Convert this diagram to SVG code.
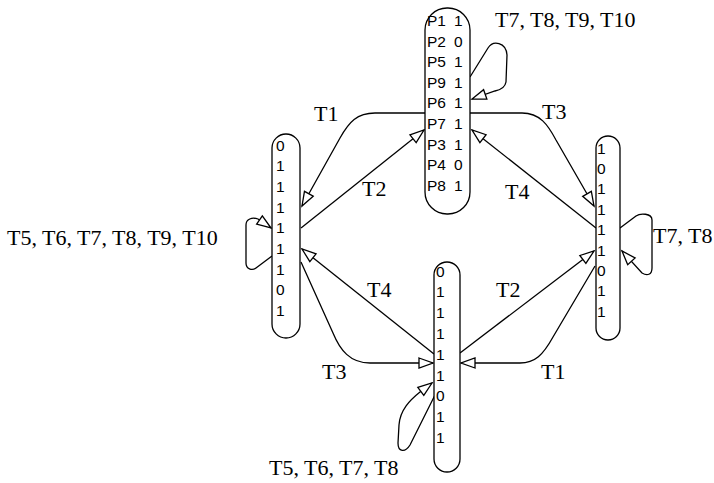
<svg xmlns="http://www.w3.org/2000/svg" width="714" height="483" viewBox="0 0 714 483">
<style>
.node{fill:#fff;stroke:#000;stroke-width:1.3}
.nt{font-family:"Liberation Sans",Arial,sans-serif;font-size:15.5px;fill:#000;dominant-baseline:central}
.lbl{font-family:"Liberation Serif","Times New Roman",serif;font-size:22px;fill:#000}
.edge{fill:none;stroke:#000;stroke-width:1.3;marker-end:url(#ah)}
</style>
<defs>
<marker id="ah" markerUnits="userSpaceOnUse" markerWidth="16" markerHeight="12" refX="14" refY="5" orient="auto" overflow="visible">
<path d="M0,0 L14,5 L0,10 z" fill="#fff" stroke="#000" stroke-width="1.3"/>
</marker>
</defs>
<g id="connectors">
<path class="edge" d="M425,113 H375 C357,113 349,122 340,138 L302,206"/>
<path class="edge" d="M301,228 L424,130"/>
<path class="edge" d="M470,113 H522 C540,113 548,125 556,140 L594,206"/>
<path class="edge" d="M596,228 L472,130"/>
<path class="edge" d="M434,354 L302,249"/>
<path class="edge" d="M301,262 L333,333 C340,350 350,363 370,363 L433,363"/>
<path class="edge" d="M460,353 L594,251"/>
<path class="edge" d="M595,266 L553,337 C543,355 535,363 520,363 L461,363"/>
<path class="edge" d="M470,77 L488,48 C493,40 506,42 507,55 L506,82 C505,88 500,90 495,91 L472,99"/>
<path class="edge" d="M272,256 L256,268 C252,271 246,269 246,263 L246,225 C246,219 252,217 258,219 L271,228"/>
<path class="edge" d="M620,228 L636,216 C640,213 652,213 652,220 L652,268 C652,275 647,276 642,273 L622,251"/>
<path class="edge" d="M435,395 L410,445 C405,453 398,452 398,443 L399,425 C400,410 410,400 420,392 L432,383"/>
</g>
<g id="labels">
<text class="lbl" x="314" y="121">T1</text>
<text class="lbl" x="362" y="196">T2</text>
<text class="lbl" x="542" y="119">T3</text>
<text class="lbl" x="505" y="199">T4</text>
<text class="lbl" x="367" y="297">T4</text>
<text class="lbl" x="322" y="379">T3</text>
<text class="lbl" x="496" y="297">T2</text>
<text class="lbl" x="541" y="379">T1</text>
<text class="lbl" x="495" y="27">T7, T8, T9, T10</text>
<text class="lbl" x="7" y="245">T5, T6, T7, T8, T9, T10</text>
<text class="lbl" x="653" y="243">T7, T8</text>
<text class="lbl" x="269" y="475">T5, T6, T7, T8</text>
</g>
<g id="node-top">
<rect class="node" x="425" y="8" width="45" height="206" rx="22"/>
<text class="nt" x="427" y="20.5">P1</text><text class="nt" x="454" y="20.5">1</text>
<text class="nt" x="427" y="41.1">P2</text><text class="nt" x="454" y="41.1">0</text>
<text class="nt" x="427" y="61.7">P5</text><text class="nt" x="454" y="61.7">1</text>
<text class="nt" x="427" y="82.3">P9</text><text class="nt" x="454" y="82.3">1</text>
<text class="nt" x="427" y="102.9">P6</text><text class="nt" x="454" y="102.9">1</text>
<text class="nt" x="427" y="123.5">P7</text><text class="nt" x="454" y="123.5">1</text>
<text class="nt" x="427" y="144.1">P3</text><text class="nt" x="454" y="144.1">1</text>
<text class="nt" x="427" y="164.7">P4</text><text class="nt" x="454" y="164.7">0</text>
<text class="nt" x="427" y="185.3">P8</text><text class="nt" x="454" y="185.3">1</text>
</g>
<g id="node-left">
<rect class="node" x="272" y="134" width="28" height="204" rx="14"/>
<text class="nt" x="276" y="145">0</text>
<text class="nt" x="276" y="165.7">1</text>
<text class="nt" x="276" y="186.4">1</text>
<text class="nt" x="276" y="207.1">1</text>
<text class="nt" x="276" y="227.8">1</text>
<text class="nt" x="276" y="248.5">1</text>
<text class="nt" x="276" y="269.2">1</text>
<text class="nt" x="276" y="289.9">0</text>
<text class="nt" x="276" y="310.6">1</text>
</g>
<g id="node-right">
<rect class="node" x="596" y="136" width="24" height="204" rx="12"/>
<text class="nt" x="597" y="148">1</text>
<text class="nt" x="597" y="168.4">0</text>
<text class="nt" x="597" y="188.8">1</text>
<text class="nt" x="597" y="209.2">1</text>
<text class="nt" x="597" y="229.6">1</text>
<text class="nt" x="597" y="250">1</text>
<text class="nt" x="597" y="270.4">0</text>
<text class="nt" x="597" y="290.8">1</text>
<text class="nt" x="597" y="311.2">1</text>
</g>
<g id="node-bottom">
<rect class="node" x="434" y="262" width="26" height="210" rx="13"/>
<text class="nt" x="436" y="271">0</text>
<text class="nt" x="436" y="291.8">1</text>
<text class="nt" x="436" y="312.6">1</text>
<text class="nt" x="436" y="333.4">1</text>
<text class="nt" x="436" y="354.2">1</text>
<text class="nt" x="436" y="375">1</text>
<text class="nt" x="436" y="395.8">0</text>
<text class="nt" x="436" y="416.6">1</text>
<text class="nt" x="436" y="437.4">1</text>
</g>
</svg>
